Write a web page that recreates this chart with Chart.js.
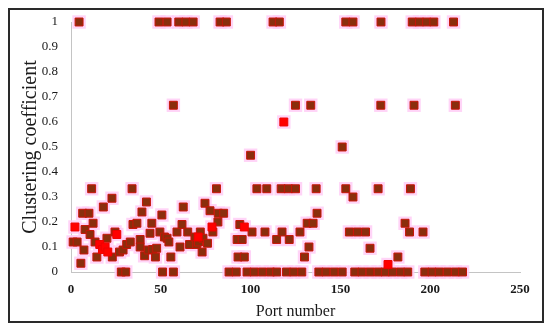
<!DOCTYPE html>
<html>
<head>
<meta charset="utf-8">
<script src="https://cdn.jsdelivr.net/npm/chart.js@4.4.0/dist/chart.umd.min.js"></script>
<style>
  html, body { margin: 0; padding: 0; background: #fff; }
  #wrap { position: relative; width: 550px; height: 328px; }
  #frame { position: absolute; left: 8px; top: 8px; width: 532px; height: 311px;
           border: 2px solid #2a2a2a; pointer-events: none; }
</style>
</head>
<body>
<div id="wrap">
  <canvas id="chart" width="550" height="328"></canvas>
  <div id="frame"></div>
</div>
<script>
// Port numbers (x) and clustering coefficients (y)
const darkPorts = [
  4.5, 49, 53.5, 60, 64, 68, 83, 86.5, 112.5, 116, 153, 157, 172.6, 190, 194, 198, 202, 213,
  57, 125, 133.5, 172.5, 191, 214,
  151, 100,
  11.5, 34, 81, 103.5, 109, 117, 121, 125, 136.5, 153, 171, 189, 157,
  1.2, 3.4, 5.5, 7.2, 6.5, 10, 7.8, 10.6, 12.3, 13.4, 14.4, 18, 20, 22.8, 23, 24.5,
  27, 29, 31, 33, 34.5, 36.7, 38.5, 38.5, 39.5, 41, 42, 43, 44, 45, 45.5, 47, 47.7,
  49.5, 50.6, 52, 53.5, 54.5, 55.6, 59, 60.7, 61.8, 62.5, 65, 66, 69, 70, 71, 72,
  73.5, 73, 74.6, 76, 77.4, 79, 81.8, 82, 85, 92.5, 95.3, 93, 96.5, 94, 100.8, 108,
  114.5, 117.5, 121.5, 127.5, 131.5, 134.8, 137, 132.5, 130, 155, 159.5, 164, 166.5,
  182, 186, 188.5, 196,
  28, 30.5, 51, 57, 88, 92, 98, 102, 106.5, 111, 114.5, 120, 124, 128.5, 138, 142, 146.5,
  151, 158, 162, 166.5, 171, 175, 179, 183.5, 187.5, 197, 201, 205, 209.5, 214, 218
];
const darkCoef = [
  1, 1, 1, 1, 1, 1, 1, 1, 1, 1, 1, 1, 1, 1, 1, 1, 1, 1,
  0.667, 0.667, 0.667, 0.667, 0.667, 0.667,
  0.5, 0.467,
  0.333, 0.333, 0.333, 0.333, 0.333, 0.333, 0.333, 0.333, 0.333, 0.333, 0.333, 0.333, 0.3,
  0.12, 0.12, 0.035, 0.088, 0.235, 0.235, 0.17, 0.15, 0.195, 0.12, 0.06, 0.26, 0.135, 0.295, 0.06, 0.16,
  0.08, 0.088, 0.11, 0.12, 0.19, 0.195, 0.13, 0.1, 0.24, 0.065, 0.28, 0.088, 0.155, 0.195, 0.09, 0.06, 0.095,
  0.16, 0.228, 0.14, 0.135, 0.12, 0.06, 0.16, 0.1, 0.19, 0.26, 0.16, 0.11, 0.14, 0.11, 0.12, 0.16,
  0.135, 0.08, 0.275, 0.115, 0.245, 0.16, 0.2, 0.235, 0.235, 0.13, 0.13, 0.06, 0.06, 0.19, 0.16, 0.16,
  0.13, 0.16, 0.13, 0.16, 0.195, 0.195, 0.235, 0.1, 0.06, 0.16, 0.16, 0.16, 0.095,
  0.06, 0.195, 0.16, 0.16,
  0, 0, 0, 0, 0, 0, 0, 0, 0, 0, 0, 0, 0, 0, 0, 0, 0,
  0, 0, 0, 0, 0, 0, 0, 0, 0, 0, 0, 0, 0, 0, 0
];
const redPorts = [2.2, 16, 17.5, 19, 20.5, 25.5, 70.8, 78.5, 96.5, 118.5, 176.5];
const redCoef = [0.18, 0.11, 0.09, 0.1, 0.08, 0.15, 0.14, 0.18, 0.18, 0.6, 0.03];

const xTicks = [0, 50, 100, 150, 200, 250];
const yTicks = [0, 0.1, 0.2, 0.3, 0.4, 0.5, 0.6, 0.7, 0.8, 0.9, 1];

function toPoints(xs, ys) {
  return xs.map((x, i) => ({ x: x, y: ys[i] }));
}

const darkPts = toPoints(darkPorts, darkCoef);
const redPts = toPoints(redPorts, redCoef);

const serif = "'Liberation Serif', 'Times New Roman', serif";

new Chart(document.getElementById('chart'), {
  type: 'scatter',
  data: {
    datasets: [
      {
        // pink glow round every marker
        data: darkPts.concat(redPts),
        pointStyle: 'rect',
        pointRadius: 9.5,
        backgroundColor: 'rgba(255, 205, 246, 0.85)',
        borderWidth: 0,
        clip: false,
        order: 3
      },
      {
        data: darkPts,
        pointStyle: 'rect',
        pointRadius: 5.6,
        backgroundColor: '#8a2e0c',
        borderColor: '#c81408',
        borderWidth: 1,
        clip: false,
        order: 2
      },
      {
        data: redPts,
        pointStyle: 'rect',
        pointRadius: 5.6,
        backgroundColor: '#ff0000',
        borderColor: '#ee0000',
        borderWidth: 1,
        clip: false,
        order: 1
      }
    ]
  },
  options: {
    responsive: false,
    animation: false,
    layout: { padding: { left: 0, right: 30, top: 22, bottom: 0 } },
    plugins: { legend: { display: false }, tooltip: { enabled: false } },
    elements: { point: { hoverRadius: 5.6 } },
    scales: {
      x: {
        type: 'linear',
        min: 0,
        max: 250,
        afterFit: (s) => { s.height = 56; },
        afterBuildTicks: (s) => { s.ticks = xTicks.map(v => ({ value: v })); },
        grid: { display: false },
        border: { display: true, color: '#c4c4c4', width: 1 },
        ticks: {
          padding: 2,
          color: '#1a1a1a',
          font: { family: serif, size: 13, weight: 'bold' }
        },
        title: {
          display: true,
          text: 'Port number',
          color: '#1a1a1a',
          padding: { top: 0, bottom: 7 },
          font: { family: serif, size: 16 }
        }
      },
      y: {
        min: 0,
        max: 1,
        afterFit: (s) => { s.width = 71; },
        afterBuildTicks: (s) => { s.ticks = yTicks.map(v => ({ value: v })); },
        grid: { display: false },
        border: { display: true, color: '#c4c4c4', width: 1 },
        ticks: {
          padding: 5,
          color: '#1a1a1a',
          font: { family: serif, size: 13 },
          callback: (v) => String(Number(v.toFixed(1)))
        },
        title: {
          display: true,
          text: 'Clustering coefficient',
          color: '#1a1a1a',
          padding: { top: 19, bottom: 0 },
          font: { family: serif, size: 20 }
        }
      }
    }
  }
});
</script>
</body>
</html>
